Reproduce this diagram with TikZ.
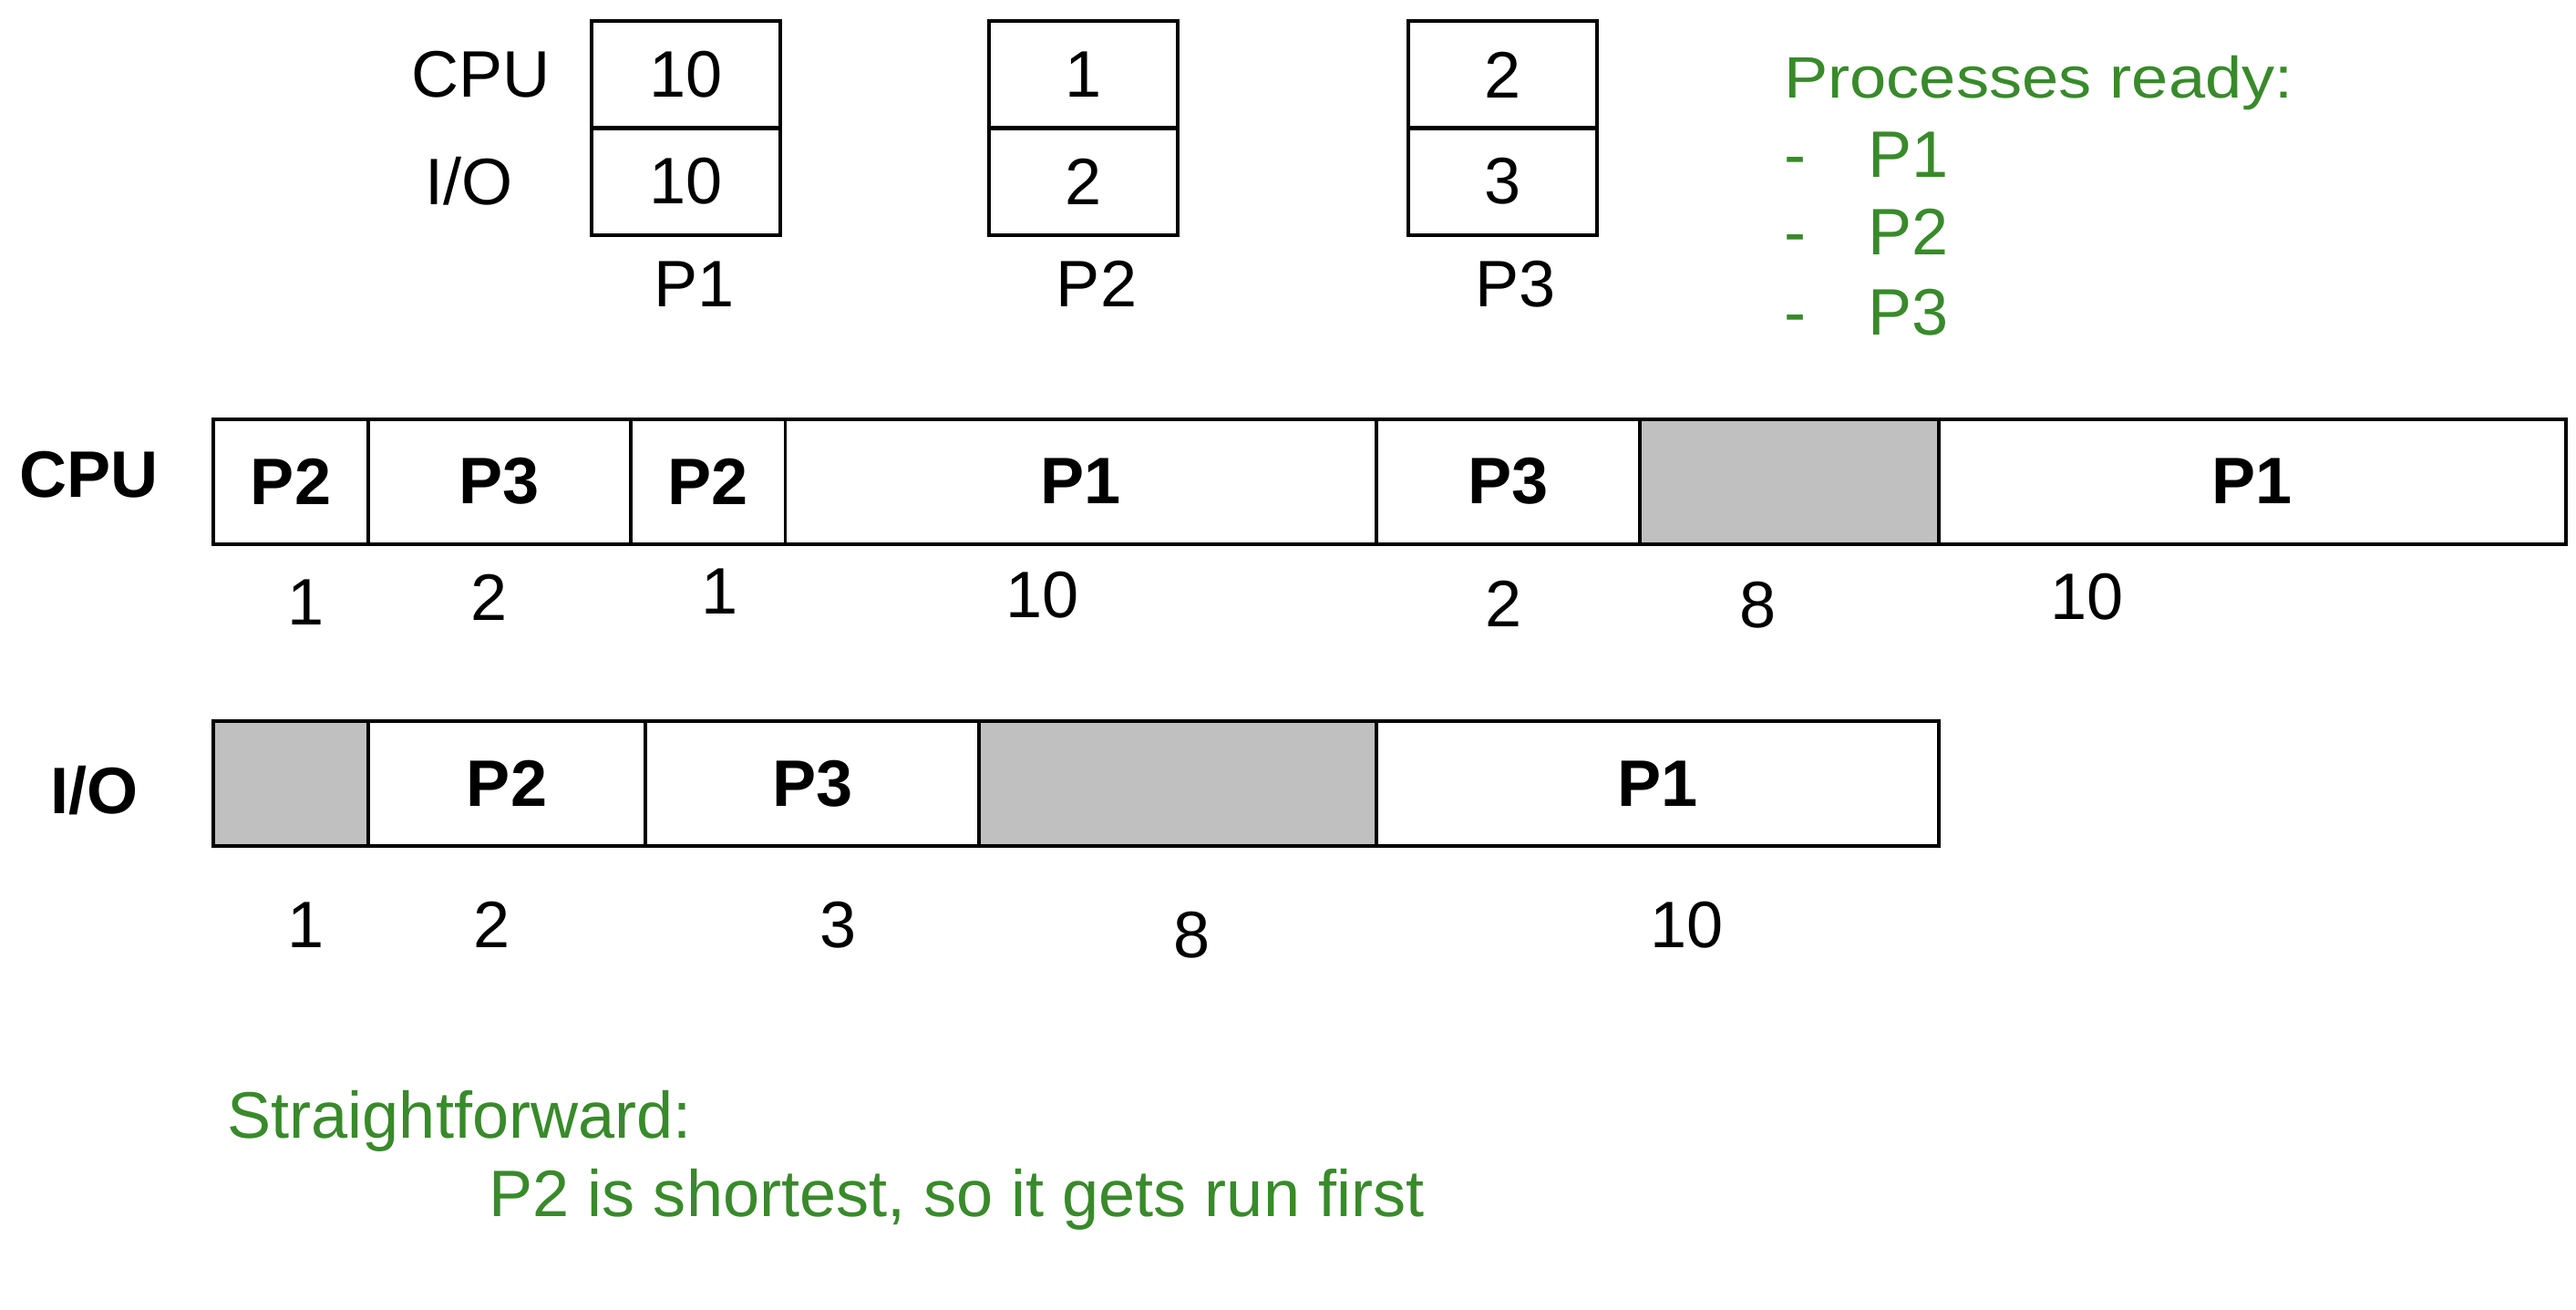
\documentclass[tikz,border=0pt]{standalone}
\usepackage{fontspec}
\setmainfont{Liberation Sans}
\definecolor{grn}{RGB}{56,138,42}
\definecolor{gry}{RGB}{192,192,192}
\begin{document}
\begin{tikzpicture}[x=1pt,y=-1pt,
  base/.style={inner sep=0pt, outer sep=0pt, font=\fontsize{40}{48}\selectfont},
  blbl/.style={base, font=\fontsize{40}{48}\selectfont\bfseries},
  gtxt/.style={base, text=grn, anchor=base west},
  cell/.style={base, draw, line width=2.2pt, anchor=north west, minimum height=76pt, font=\fontsize{40}{48}\selectfont\bfseries},
  idle/.style={cell, fill=gry},
  tcell/.style={base, draw, line width=2.2pt, anchor=north west, minimum width=115pt, minimum height=65pt},
  mid/.style={line width=3pt},
]
\path[use as bounding box, fill=white] (0,0) rectangle (1568,797);

% process table
\node[base] (tcpu) at (292.5,45.6) {CPU};
\node[base] (tio) at (285.5,110) {I/O};
\node[tcell] (p1c) at (360,13) {10};
\node[tcell] (p1i) at (360,78) {10};
\node[tcell] (p2c) at (602,13) {1};
\node[tcell] (p2i) at (602,78) {2};
\node[tcell] (p3c) at (857,13) {2};
\node[tcell] (p3i) at (857,78) {3};
\draw[mid] (p1c.south west) -- (p1c.south east);
\draw[mid] (p2c.south west) -- (p2c.south east);
\draw[mid] (p3c.south west) -- (p3c.south east);
\node[base] (n1) at (422.5,173) {P1};
\node[base] (n2) at (667.5,173) {P2};
\node[base] (n3) at (922.5,173) {P3};

% ready list
\node[gtxt, font=\fontsize{35.5}{42}\selectfont] (ready) at (1086,59.6) {\scalebox{1.13}[1]{Processes ready:}};
\node[gtxt] (d1) at (1086,107.7) {-};
\node[gtxt] (r1) at (1137,107.7) {P1};
\node[gtxt] (d2) at (1086,155) {-};
\node[gtxt] (r2) at (1137,155) {P2};
\node[gtxt] (d3) at (1086,203.8) {-};
\node[gtxt] (r3) at (1137,203.8) {P3};

% CPU timeline
\node[blbl] (cpul) at (54,289) {CPU};
\node[cell, minimum width=94pt] (c1) at (130,255) {P2};
\node[cell, minimum width=160pt] (c2) at (224,255) {P3};
\node[cell, minimum width=94pt] (c3) at (384,255) {P2};
\node[cell, minimum width=360pt] (c4) at (478,255) {P1};
\node[cell, minimum width=160pt] (c5) at (838,255) {P3};
\node[idle, minimum width=182pt] (c6) at (998,255) {};
\node[cell, minimum width=382pt] (c7) at (1180,255) {P1};
\node[base] (cn1) at (186,366.5) {1};
\node[base] (cn2) at (297.5,363.7) {2};
\node[base] (cn3) at (438,360) {1};
\node[base] (cn4) at (634.5,362) {10};
\node[base] (cn5) at (915.5,367.4) {2};
\node[base] (cn6) at (1070,368) {8};
\node[base] (cn7) at (1270.5,363.5) {10};

% I/O timeline
\node[blbl] (iol) at (57.5,481) {I/O};
\node[idle, minimum width=94pt] (i1) at (130,439) {};
\node[cell, minimum width=169pt] (i2) at (224,439) {P2};
\node[cell, minimum width=203pt] (i3) at (393,439) {P3};
\node[idle, minimum width=242pt] (i4) at (596,439) {};
\node[cell, minimum width=342pt] (i5) at (838,439) {P1};
\node[base] (in1) at (186,563) {1};
\node[base] (in2) at (299.5,563) {2};
\node[base] (in3) at (510,563) {3};
\node[base] (in4) at (725.5,569) {8};
\node[base] (in5) at (1027,563) {10};

% notes
\node[gtxt] (s1) at (138.5,692.7) {Straightforward:};
\node[gtxt] (s2) at (297.8,740.2) {P2 is shortest, so it gets run first};
\end{tikzpicture}
\end{document}
